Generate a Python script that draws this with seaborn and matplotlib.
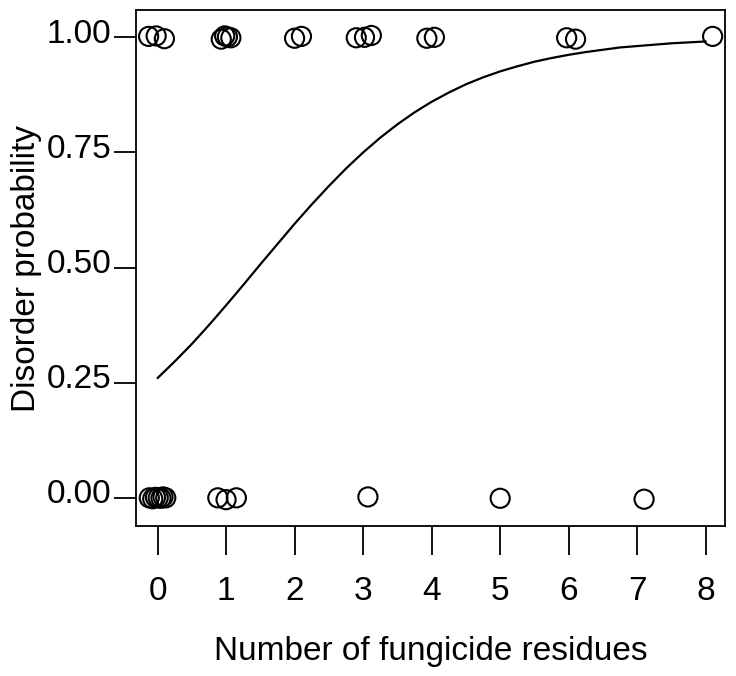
import numpy as np
import pandas as pd
import matplotlib
matplotlib.use('Agg')
import matplotlib.pyplot as plt
import matplotlib.transforms as mtransforms
import seaborn as sns

# Gözlemler (hafif jitter ile okunan konumlar)
top_x = [-0.13, -0.02, 0.1, 0.93, 0.98, 1.02, 1.07, 2.0, 2.1, 2.9, 3.02, 3.12, 3.93, 4.04, 5.97, 6.1, 8.1]
top_y = [1.002, 1.003, 0.997, 0.996, 1.003, 1.001, 0.999, 0.998, 1.002, 0.999, 1.0, 1.004, 0.998, 1.0, 0.999, 0.996, 1.002]
bot_x = [-0.12, -0.07, -0.03, 0.01, 0.05, 0.08, 0.12, 0.88, 1.0, 1.15, 3.07, 5.0, 7.1]
bot_y = [0.0, -0.002, 0.001, 0.0, -0.001, 0.002, 0.0, 0.0, -0.004, 0.0, 0.002, -0.001, -0.003]

# Lojistik eğri
curve_x = [0, 0.25, 0.5, 0.75, 1, 1.25, 1.5, 1.75, 2, 2.25, 2.5, 2.75, 3, 3.25, 3.5, 3.75,
           4, 4.25, 4.5, 4.75, 5, 5.25, 5.5, 5.75, 6, 6.25, 6.5, 6.75, 7, 7.25, 7.5, 7.75, 8]
curve_y = [0.260, 0.296, 0.334, 0.375, 0.418, 0.462, 0.507, 0.551, 0.595, 0.637, 0.677,
           0.715, 0.750, 0.782, 0.811, 0.837, 0.860, 0.880, 0.898, 0.913, 0.926, 0.937,
           0.947, 0.955, 0.962, 0.968, 0.973, 0.978, 0.981, 0.984, 0.987, 0.989, 0.991]

points = pd.DataFrame({'x': top_x + bot_x, 'y': top_y + bot_y})
curve = pd.DataFrame({'x': curve_x, 'y': curve_y})

sns.set_style('white')
plt.rcParams['font.family'] = ['Liberation Sans', 'DejaVu Sans']
plt.rcParams['text.color'] = 'black'
plt.rcParams['axes.labelcolor'] = 'black'
plt.rcParams['xtick.color'] = 'black'
plt.rcParams['ytick.color'] = 'black'

fig = plt.figure(figsize=(7.36, 6.76), dpi=100)
ax = fig.add_axes([0.1848, 0.222, 0.8002, 0.763])

sns.lineplot(data=curve, x='x', y='y', color='black', linewidth=1.6, ax=ax)
sns.scatterplot(data=points, x='x', y='y', s=190, facecolor='none',
                edgecolor='black', linewidth=1.5, ax=ax)

ax.set_xlim(-0.314, 8.28)
ax.set_ylim(-0.061, 1.059)
ax.set_xticks(range(9))
ax.set_yticks([0, 0.25, 0.5, 0.75, 1.0])
ax.set_yticklabels(['0.00', '0.25', '0.50', '0.75', '1.00'])

for sp in ax.spines.values():
    sp.set_visible(True)
    sp.set_color('black')
    sp.set_linewidth(1.3)

ax.tick_params(axis='x', direction='out', length=21, width=1.3, pad=15, labelsize=24, bottom=True)
ax.tick_params(axis='y', direction='out', length=16, width=1.3, pad=2, labelsize=24, left=True)
shift = mtransforms.ScaledTranslation(0, -4 / 72, fig.dpi_scale_trans)
for lab in ax.get_yticklabels():
    lab.set_verticalalignment('baseline')
    lab.set_transform(lab.get_transform() + shift)

ax.set_xlabel('Number of fungicide residues', fontsize=24, labelpad=21)
ax.set_ylabel('Disorder probability', fontsize=24, labelpad=3)

plt.savefig('out.png', dpi=100)
